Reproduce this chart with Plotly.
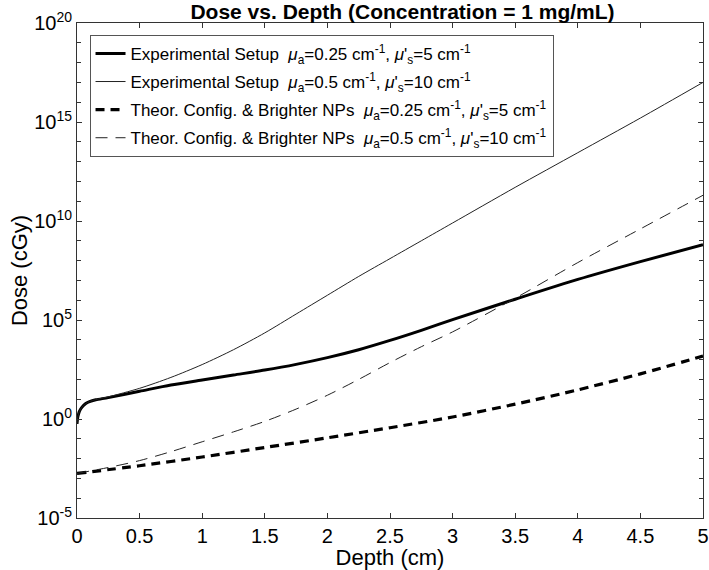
import plotly.graph_objects as go

# Depth samples (cm) and log10(dose)
depth_exp1 = [0, 0.005, 0.01, 0.02, 0.04, 0.07, 0.1, 0.15, 0.25, 0.5, 0.75, 1.0, 1.25, 1.5, 1.75,
              2.0, 2.25, 2.5, 2.75, 3.0, 3.5, 4.0, 4.5, 5.0]
logdose_exp1 = [-0.25, 0.05, 0.2, 0.4, 0.6, 0.78, 0.88, 0.97, 1.08, 1.4, 1.72, 1.97, 2.22, 2.47, 2.76,
                3.1, 3.5, 3.97, 4.48, 5.02, 6.05, 7.05, 7.95, 8.8]

depth_exp2 = [0, 0.005, 0.01, 0.02, 0.04, 0.07, 0.1, 0.15, 0.25, 0.5, 0.75, 1.0, 1.25, 1.5, 1.75,
              2.0, 2.25, 2.5, 2.75, 3.0, 3.5, 4.0, 4.5, 5.0]
logdose_exp2 = [-0.25, 0.05, 0.2, 0.4, 0.6, 0.78, 0.88, 0.98, 1.12, 1.55, 2.1, 2.75, 3.5, 4.35, 5.3,
                6.25, 7.2, 8.1, 9.0, 9.9, 11.7, 13.45, 15.2, 17.0]

depth_th1 = [0, 0.5, 1.0, 1.5, 2.0, 2.5, 3.0, 3.5, 4.0, 4.5, 5.0]
logdose_th1 = [-2.75, -2.36, -1.92, -1.44, -0.95, -0.44, 0.1, 0.75, 1.47, 2.28, 3.18]

depth_th2 = [0, 0.25, 0.5, 0.75, 1.0, 1.25, 1.5, 1.75, 2.0, 2.25, 2.5, 2.75, 3.0, 3.5, 4.0, 4.5, 5.0]
logdose_th2 = [-2.75, -2.45, -2.1, -1.65, -1.15, -0.65, -0.12, 0.5, 1.2, 2.0, 2.85, 3.65, 4.4,
               6.1, 7.9, 9.6, 11.3]

names = [
    "Experimental Setup  <i>μ</i><sub>a</sub>=0.25 cm<sup>-1</sup>, <i>μ</i>'<sub>s</sub>=5 cm<sup>-1</sup>",
    "Experimental Setup  <i>μ</i><sub>a</sub>=0.5 cm<sup>-1</sup>, <i>μ</i>'<sub>s</sub>=10 cm<sup>-1</sup>",
    "Theor. Config. & Brighter NPs  <i>μ</i><sub>a</sub>=0.25 cm<sup>-1</sup>, <i>μ</i>'<sub>s</sub>=5 cm<sup>-1</sup>",
    "Theor. Config. & Brighter NPs  <i>μ</i><sub>a</sub>=0.5 cm<sup>-1</sup>, <i>μ</i>'<sub>s</sub>=10 cm<sup>-1</sup>",
]

series = [
    (depth_exp1, logdose_exp1, dict(color="black", width=3, dash="solid")),
    (depth_exp2, logdose_exp2, dict(color="#222222", width=1, dash="solid")),
    (depth_th1, logdose_th1, dict(color="black", width=3.2, dash="9px,6px")),
    (depth_th2, logdose_th2, dict(color="#222222", width=1, dash="12px,8px")),
]

FONT = "Arial, Liberation Sans, sans-serif"

fig = go.Figure()
for i, (name, (xs, ls, line)) in enumerate(zip(names, series)):
    fig.add_trace(go.Scatter(
        x=xs, y=[10.0 ** v for v in ls], mode="lines", name=name,
        legendgroup=f"g{i}",
        line=dict(shape="spline", smoothing=0.8, **line),
    ))

fig.update_layout(
    width=709, height=570,
    margin=dict(l=77, r=6, t=23, b=52, autoexpand=False),
    paper_bgcolor="white", plot_bgcolor="white",
    font=dict(family=FONT, size=20, color="black"),
    title=dict(text="<b>Dose vs. Depth (Concentration = 1 mg/mL)</b>",
               x=0.52, xref="paper", xanchor="center",
               y=1 - 12 / 570, yref="container", yanchor="middle",
               font=dict(family=FONT, size=21, color="black")),
    showlegend=True,
    legend=dict(x=0.02, y=0.976, xanchor="left", yanchor="top",
                bgcolor="white", bordercolor="#555555", borderwidth=1,
                font=dict(family=FONT, size=17, color="black"),
                tracegroupgap=3, itemwidth=30),
)

fig.update_xaxes(
    title=dict(text="Depth (cm)", font=dict(size=22), standoff=0),
    range=[0, 5], tickmode="array",
    tickvals=[0, 0.5, 1, 1.5, 2, 2.5, 3, 3.5, 4, 4.5, 5],
    ticktext=["0", "0.5", "1", "1.5", "2", "2.5", "3", "3.5", "4", "4.5", "5"],
    ticklabeloverflow="allow", automargin=False,
    ticks="inside", ticklen=5, tickcolor="#333333",
    showline=True, linecolor="#333333", linewidth=1, mirror="ticks",
    showgrid=False, zeroline=False,
)
fig.update_yaxes(
    title=dict(text="Dose (cGy)", font=dict(size=22), standoff=0),
    type="log", range=[-5, 20], tickmode="array",
    tickvals=[10.0 ** k for k in range(-5, 21, 5)],
    ticktext=[f"10<sup>{k}</sup>" for k in range(-5, 21, 5)],
    ticklabeloverflow="allow", automargin=False,
    ticks="inside", ticklen=5, tickcolor="#333333",
    minor=dict(tickmode="array", tickvals=[10.0 ** k for k in range(-5, 21)],
               ticks="inside", ticklen=4, tickcolor="#333333"),
    showline=True, linecolor="#333333", linewidth=1, mirror="ticks",
    showgrid=False, zeroline=False,
)

fig.write_html("out.html", config={"displayModeBar": False},
               post_script="document.body.style.margin='0';")
